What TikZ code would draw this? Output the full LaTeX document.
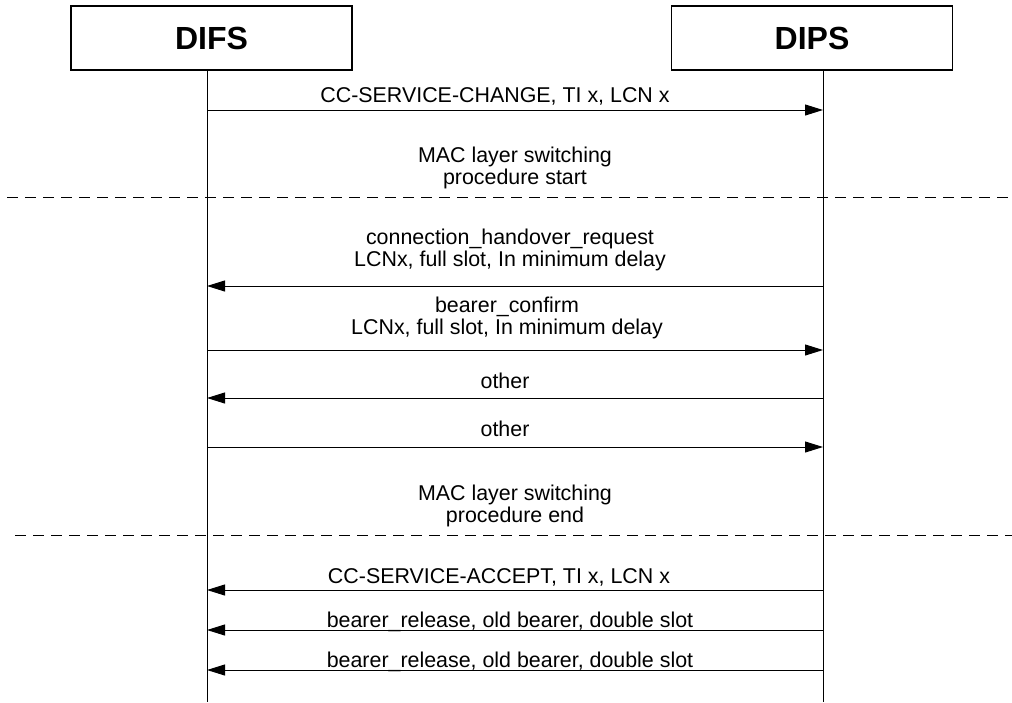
\documentclass[tikz,border=0pt]{standalone}
\usepackage{fontspec}
\setmainfont{Liberation Sans}
\usetikzlibrary{arrows.meta,positioning}

\begin{document}
\begin{tikzpicture}[
    x=0.5pt, y=-0.5pt,
    entity/.style={rectangle, draw, line width=0.7pt, minimum width=140.5pt, minimum height=32pt, inner sep=0pt, font=\fontsize{16}{19}\selectfont\bfseries},
    life/.style={line width=0.5pt},
    msg/.style={-{Triangle[length=9pt,width=5.5pt]}, line width=0.5pt},
    lbl/.style={font=\fontsize{10.7}{11}\selectfont, anchor=base, inner sep=0pt},
    lbltwo/.style={font=\fontsize{10.7}{11}\selectfont, anchor=south, inner sep=0pt, align=center},
    phase/.style={line width=0.5pt, dash pattern=on 5.5pt off 3.5pt}
]
\useasboundingbox (0,0) rectangle (1012,702);

% Entities
\node[entity] (difs) at (211.5,38) {DIFS};
\node[entity] (dips) at (812,38) {DIPS};

% Lifelines
\coordinate (fEnd) at (207,702);
\coordinate (pEnd) at (823,702);
\draw[life] (difs.south -| fEnd) -- (fEnd);
\draw[life] (dips.south -| pEnd) -- (pEnd);

% Message points on both lifelines
\foreach \n/\y in {a/110, b/286, c/350, d/398, e/447, f/590, g/630, h/670} {
    \coordinate (f\n) at (207,\y);
    \coordinate (p\n) at (823,\y);
}

% Messages
\draw[msg] (fa) -- node[lbl, xshift=-10pt, yshift=4pt] {CC-SERVICE-CHANGE, TI x, LCN x} (pa);
\draw[msg] (pb) -- node[lbltwo, xshift=-2.5pt, yshift=7.5pt] {connection\_handover\_request\\LCNx, full slot, In minimum delay} (fb);
\draw[msg] (fc) -- node[lbltwo, xshift=-4pt, yshift=5.5pt] {bearer\_confirm\\LCNx, full slot, In minimum delay} (pc);
\draw[msg] (pd) -- node[lbl, xshift=-5pt, yshift=5pt] {other} (fd);
\draw[msg] (fe) -- node[lbl, xshift=-5pt, yshift=5.5pt] {other} (pe);
\draw[msg] (pf) -- node[lbl, xshift=-8pt, yshift=3.5pt] {CC-SERVICE-ACCEPT, TI x, LCN x} (ff);
\draw[msg] (pg) -- node[lbl, xshift=-2.5pt, yshift=1.5pt] {bearer\_release, old bearer, double slot} (fg);
\draw[msg] (ph) -- node[lbl, xshift=-2.5pt, yshift=1.5pt] {bearer\_release, old bearer, double slot} (fh);

% MAC layer switching phases
\node[lbltwo] (start) at (515,189) {MAC layer switching\\procedure start};
\node[lbltwo] (stop) at (515,527) {MAC layer switching\\procedure end};
\coordinate (s1) at (7,197);
\coordinate (s2) at (1012,197);
\coordinate (e1) at (15,535);
\coordinate (e2) at (1012,535);
\draw[phase] (s1) -- (s2);
\draw[phase] (e1) -- (e2);

\end{tikzpicture}
\end{document}
